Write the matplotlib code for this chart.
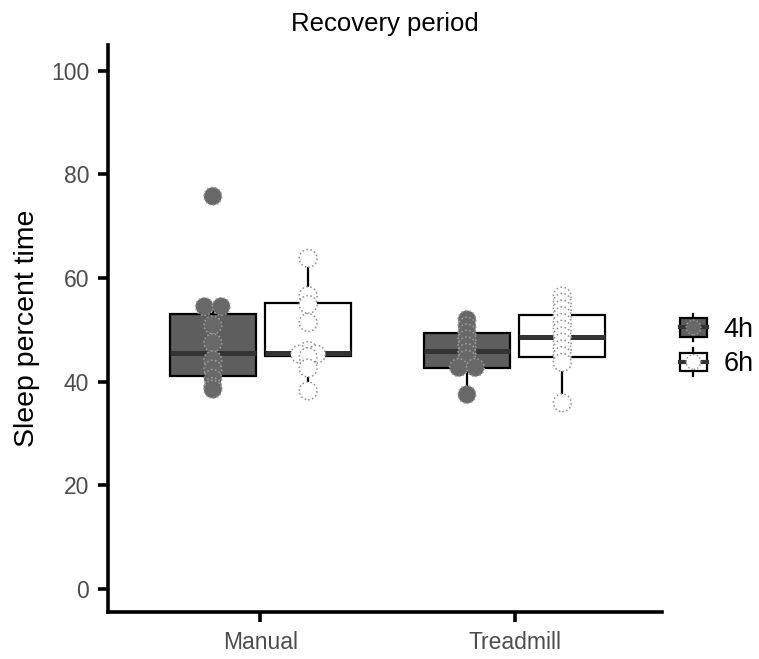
import numpy as np
import matplotlib.pyplot as plt
from matplotlib.patches import Rectangle, Circle
from matplotlib.lines import Line2D
from matplotlib.legend_handler import HandlerBase

plt.rcParams['font.family'] = ['Liberation Sans', 'DejaVu Sans']

groups = ['Manual', 'Treadmill']
durations = ['4h', '6h']

# individual animals, sleep percent time during recovery
manual_4h = [75.8, 54.5, 54.5, 50.9, 47.5, 44.2, 42.4, 40.6, 39.0, 38.5]
manual_6h = [63.8, 56.6, 54.9, 51.4, 46.0, 45.3, 45.3, 44.8, 42.6, 38.2]
treadmill_4h = [52.0, 50.7, 49.4, 48.2, 46.9, 45.6, 44.3, 42.7, 42.7, 37.5]
treadmill_6h = [56.5, 55.3, 54.0, 52.7, 51.4, 50.1, 48.8, 47.6, 46.3, 45.0, 43.7, 35.9]

# box summaries: lower whisker, q1, median, q3, upper whisker
manual_4h_box = [38.5, 41.0, 45.6, 53.0, 54.5]
manual_6h_box = [38.2, 45.0, 45.5, 55.1, 63.8]
treadmill_4h_box = [37.5, 42.6, 46.0, 49.4, 52.0]
treadmill_6h_box = [35.9, 44.8, 48.6, 52.8, 56.5]

points = {('Manual', '4h'): manual_4h, ('Manual', '6h'): manual_6h,
          ('Treadmill', '4h'): treadmill_4h, ('Treadmill', '6h'): treadmill_6h}
boxes = {('Manual', '4h'): manual_4h_box, ('Manual', '6h'): manual_6h_box,
         ('Treadmill', '4h'): treadmill_4h_box, ('Treadmill', '6h'): treadmill_6h_box}

box_fill = {'4h': '#5e5e5e', '6h': 'white'}
dot_fill = {'4h': '#686868', '6h': 'white'}
dot_edge = {'4h': '#a0a0a0', '6h': '#8e8e8e'}

dodge = 0.1875
box_w = 0.34
dot_step = 0.066
dot_size = 165


def spread(vals):
    # equal values are laid side by side, centred on the group position
    vals = np.asarray(vals)
    off = np.zeros(len(vals))
    for v in np.unique(vals):
        idx = np.where(vals == v)[0]
        n = len(idx)
        off[idx] = (np.arange(n) - (n - 1) / 2) * dot_step
    return off


class BoxDotHandler(HandlerBase):
    def __init__(self, face, dface, dedge):
        super().__init__()
        self.face, self.dface, self.dedge = face, dface, dedge

    def create_artists(self, legend, orig_handle, xdescent, ydescent,
                       width, height, fontsize, trans):
        x0, y0 = -xdescent, -ydescent
        cx = x0 + width / 2
        cy = y0 + height / 2
        bh = height * 0.66
        wh = Line2D([cx, cx], [y0, y0 + height], color='black', lw=1.6, transform=trans)
        rect = Rectangle((x0, cy - bh / 2), width, bh, facecolor=self.face,
                         edgecolor='black', lw=1.6, transform=trans)
        med = Line2D([x0, x0 + width], [cy, cy], color='#333333', lw=3, transform=trans)
        dot = Circle((cx, cy), bh * 0.4, facecolor=self.dface, edgecolor=self.dedge,
                     lw=1, ls=':', transform=trans)
        return [wh, rect, med, dot]


fig = plt.figure(figsize=(7.59, 6.59), dpi=100)
ax = fig.add_axes([0.1423, 0.0713, 0.7299, 0.8604])

for gi, g in enumerate(groups):
    for di, d in enumerate(durations):
        pos = gi + 1 + (di - 0.5) * 2 * dodge
        lo, q1, med, q3, hi = boxes[(g, d)]
        stats = [dict(whislo=lo, q1=q1, med=med, q3=q3, whishi=hi, fliers=[])]
        ax.bxp(stats, positions=[pos], widths=box_w, patch_artist=True,
               showfliers=False, showcaps=False,
               boxprops=dict(facecolor=box_fill[d], edgecolor='black', linewidth=1.6),
               medianprops=dict(color='#333333', linewidth=3.6, solid_capstyle='butt'),
               whiskerprops=dict(color='black', linewidth=1.6),
               zorder=2)
        vals = points[(g, d)]
        ax.scatter(pos + spread(vals), vals, s=dot_size, facecolor=dot_fill[d],
                   edgecolor=dot_edge[d], linewidths=1.1, linestyles=':', zorder=3)

ax.set_xlim(0.4, 2.58)
ax.set_ylim(-4.5, 105)
ax.set_xticks([1, 2])
ax.set_xticklabels(groups)
ax.set_yticks([0, 20, 40, 60, 80, 100])

for s in ['top', 'right']:
    ax.spines[s].set_visible(False)
for s in ['left', 'bottom']:
    ax.spines[s].set_linewidth(2.6)
    ax.spines[s].set_color('black')
ax.tick_params(axis='both', length=7, width=2.6, color='black',
               labelsize=16.5, labelcolor='#4d4d4d', pad=6.5)

ax.set_ylabel('Sleep percent time', fontsize=20.5, color='black', labelpad=8)
ax.set_title('Recovery period', fontsize=18.5, color='black', pad=10)

handles = [Rectangle((0, 0), 1, 1), Rectangle((0, 0), 1, 1)]
hmap = {handles[i]: BoxDotHandler(box_fill[d], dot_fill[d], dot_edge[d])
        for i, d in enumerate(durations)}
leg = fig.legend(handles, durations, handler_map=hmap, loc='center left',
                 bbox_to_anchor=(0.878, 0.476), frameon=False, fontsize=19.5,
                 handlelength=1.0, handleheight=1.2, handletextpad=0.6,
                 labelspacing=0.2, borderpad=0)

fig.savefig('out.png', dpi=100)
